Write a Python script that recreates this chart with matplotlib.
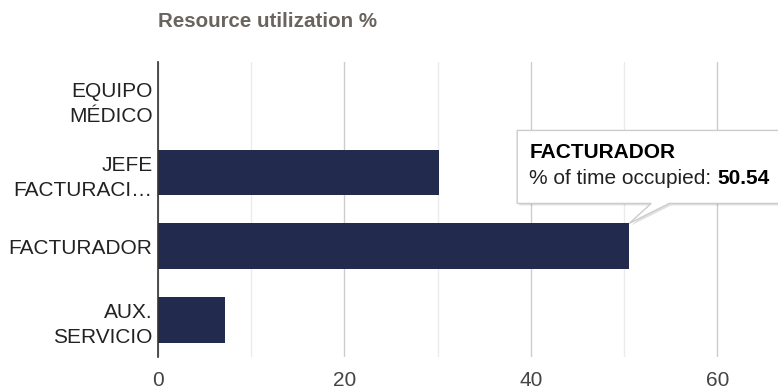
import matplotlib
matplotlib.use("Agg")
import matplotlib.pyplot as plt
from matplotlib.patches import Polygon
from matplotlib.transforms import IdentityTransform

plt.rcParams['font.family'] = ['Liberation Sans', 'DejaVu Sans']

# datos
categorias = ["EQUIPO\nMÉDICO", "JEFE\nFACTURACI…", "FACTURADOR", "AUX.\nSERVICIO"]
valores = [0.0, 30.1, 50.54, 7.2]
titulo = "Resource utilization %"
tooltip_cat = "FACTURADOR"
tooltip_label = "% of time occupied: "
tooltip_val = "50.54"

color_barra = "#222a4d"

fig = plt.figure(figsize=(7.78, 3.9), dpi=100)
ax = fig.add_axes([0.203, 0.085, 0.797, 0.756])

y = list(range(len(categorias)))
ax.barh(y, valores, height=0.62, color=color_barra, zorder=3)

ax.set_xlim(0, 66.5)
ax.set_ylim(len(categorias) - 0.5, -0.5)
ax.set_yticks(y)
ax.set_yticklabels(categorias, fontsize=15, color="#222222", linespacing=1.4)
ax.set_xticks([0, 20, 40, 60])
ax.set_xticks([10, 30, 50], minor=True)
ax.tick_params(axis="x", labelsize=15, colors="#444444", length=0, pad=10, which="both")
ax.tick_params(axis="y", length=0, pad=4)
ax.grid(axis="x", which="major", color="#cccccc", linewidth=1, zorder=0)
ax.grid(axis="x", which="minor", color="#ebebeb", linewidth=1, zorder=0)
for s in ["top", "right", "bottom"]:
    ax.spines[s].set_visible(False)
ax.spines["left"].set_color("#333333")
ax.spines["left"].set_linewidth(1.2)
ax.spines["left"].set_zorder(4)

fig.text(0.203, 0.945, titulo, fontsize=14.8, fontweight="bold", color="#69645e",
         ha="left", va="center")

# tooltip anclado al extremo de la barra
i = categorias.index(tooltip_cat)
ax_x, ax_y = ax.transData.transform((valores[i], i - 0.31))
forma = [(-112, 20), (22, 20), (0, 0), (40, 20), (165, 20), (165, 93), (-112, 93)]
sombra = Polygon([(ax_x + dx + 2, ax_y + dy - 2) for dx, dy in forma], closed=True,
                 transform=IdentityTransform(), facecolor="#000000", alpha=0.12,
                 edgecolor="none", zorder=5)
caja = Polygon([(ax_x + dx, ax_y + dy) for dx, dy in forma], closed=True,
               transform=IdentityTransform(), facecolor="white", edgecolor="#cccccc",
               linewidth=1, zorder=6)
fig.add_artist(sombra)
fig.add_artist(caja)

fig.text(ax_x - 100, ax_y + 71, tooltip_cat, transform=IdentityTransform(),
         fontsize=15, fontweight="bold", color="#000000", va="center", ha="left", zorder=7)
t1 = fig.text(ax_x - 100, ax_y + 45, tooltip_label, transform=IdentityTransform(),
              fontsize=15, color="#222222", va="center", ha="left", zorder=7)
fig.canvas.draw()
ext = t1.get_window_extent()
fig.text(ext.x1, ax_y + 45, tooltip_val, transform=IdentityTransform(),
         fontsize=15, fontweight="bold", color="#000000", va="center", ha="left", zorder=7)

fig.savefig("out.png", dpi=100)
